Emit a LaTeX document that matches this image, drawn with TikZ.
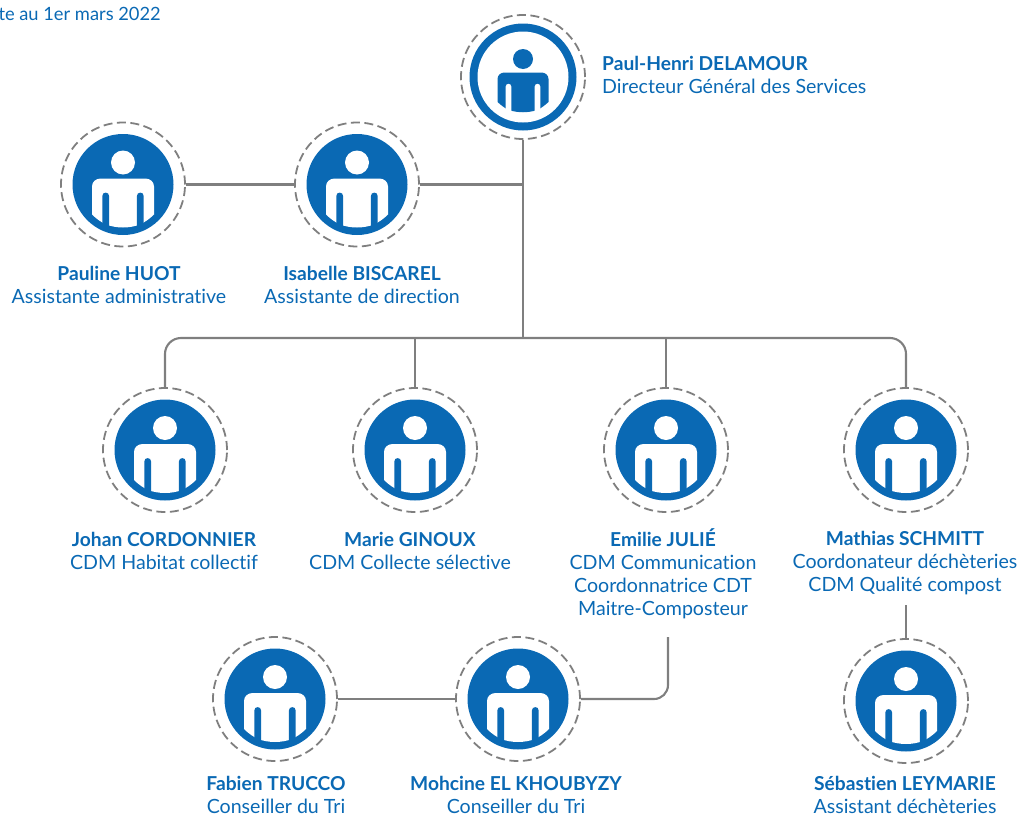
\documentclass[tikz,border=0pt]{standalone}
\usepackage{fontspec}
\setmainfont[Ligatures=NoCommon]{Lato}
\definecolor{brand}{HTML}{0A69B4}
\definecolor{linegray}{HTML}{7F7F7F}
\newcommand{\nm}[1]{{\fontsize{19.2}{23}\selectfont\bfseries #1}}
\tikzset{
  ring/.style={circle,draw=linegray,line width=1.8pt,dash pattern=on 9pt off 4.5pt,minimum size=124pt,inner sep=0pt},
  wire/.style={draw=linegray,line width=2.1pt},
  lbl/.style={text=brand,align=center,inner sep=0pt,font=\fontsize{19.6}{23}\selectfont},
  lblleft/.style={lbl,align=left,anchor=west},
  person/.pic={
    \fill[brand] (0,0) circle (50.5);
    \fill[white] (0,-22) circle (12);
    \fill[white] (-31,30) -- (-31,2) .. controls (-31,-3) and (-27,-6) .. (-22,-6) -- (22,-6) .. controls (27,-6) and (31,-3) .. (31,2) -- (31,30)
      .. controls (26,35) and (21,38) .. (17,40) .. controls (6,44) and (-6,44) .. (-17,40) .. controls (-21,38) and (-26,35) .. (-31,30) -- cycle;
    \fill[brand] (-20.7,39) -- (-20.7,11.5) .. controls (-20.7,7) and (-13.9,7) .. (-13.9,11.5) -- (-13.9,43) -- cycle;
    \fill[brand] (13.9,43) -- (13.9,11.5) .. controls (13.9,7) and (20.7,7) .. (20.7,11.5) -- (20.7,39) -- cycle;
  },
  chief/.pic={
    \fill[brand] (0,0) circle (53.5);
    \fill[white] (0,0) circle (45.5);
    \fill[brand] (0,-18) circle (10);
    \fill[brand] (-25.5,25) -- (-25.5,2) .. controls (-25.5,-2) and (-22,-4.5) .. (-18.5,-4.5) -- (18.5,-4.5) .. controls (22,-4.5) and (25.5,-2) .. (25.5,2) -- (25.5,25)
      .. controls (21,29) and (17,32) .. (14,33) .. controls (5,36) and (-5,36) .. (-14,33) .. controls (-17,32) and (-21,29) .. (-25.5,25) -- cycle;
    \fill[white] (-17.3,33) -- (-17.3,9.5) .. controls (-17.3,6) and (-11.7,6) .. (-11.7,9.5) -- (-11.7,36) -- cycle;
    \fill[white] (11.7,36) -- (11.7,9.5) .. controls (11.7,6) and (17.3,6) .. (17.3,9.5) -- (17.3,33) -- cycle;
  }
}
\begin{document}
\begin{tikzpicture}[x=1pt,y=-1pt]
\useasboundingbox (0,0) rectangle (1021,814);
% rings
\node[ring] (paul) at (523,77) {};
\node[ring] (pauline) at (123,184.5) {};
\node[ring] (isabelle) at (357,184.5) {};
\node[ring] (johan) at (165,450) {};
\node[ring] (marie) at (415,450) {};
\node[ring] (emilie) at (666,450) {};
\node[ring] (mathias) at (906,450) {};
\node[ring] (fabien) at (275,699) {};
\node[ring] (mohcine) at (518,699) {};
\node[ring] (sebastien) at (906,701) {};
% icons
\pic at (paul) {chief};
\foreach \n in {pauline,isabelle,johan,marie,emilie,mathias,fabien,mohcine,sebastien} {\pic at (\n) {person};}
% labels
\node[lbl,anchor=east] (date) at (161,14) {\fontsize{18.3}{20}\selectfont te au 1er mars 2022};
\node[lblleft] (tpaul) at (602,75) {\nm{Paul-Henri DELAMOUR}\\Directeur Général des Services};
\node[lbl] (tpauline) at (119,285) {\nm{Pauline HUOT}\\Assistante administrative};
\node[lbl] (tisabelle) at (362,285) {\nm{Isabelle BISCAREL}\\Assistante de direction};
\node[lbl] (tjohan) at (164,551) {\nm{Johan CORDONNIER}\\CDM Habitat collectif};
\node[lbl] (tmarie) at (410,551) {\nm{Marie GINOUX}\\CDM Collecte sélective};
\node[lbl,anchor=north] (temilie) at (663,528.5) {\nm{Emilie JULIÉ}\\CDM Communication\\Coordonnatrice CDT\\Maitre-Composteur};
\node[lbl,anchor=north] (tmathias) at (905,531) {\nm{Mathias SCHMITT}\\Coordonateur déchèteries\\CDM Qualité compost};
\node[lbl] (tfabien) at (276,795) {\nm{Fabien TRUCCO}\\Conseiller du Tri};
\node[lbl] (tmohcine) at (516,795) {\nm{Mohcine EL KHOUBYZY}\\Conseiller du Tri};
\node[lbl] (tsebastien) at (905,794.5) {\nm{Sébastien LEYMARIE}\\Assistant déchèteries};
% junctions
\coordinate (bus) at (523,338);
\coordinate (jem) at (668,637);
\coordinate (jmath) at (906,605);
% connectors
\draw[wire] (paul.south) -- (bus);
\draw[wire] (isabelle.east) -- (isabelle.east -| bus);
\draw[wire] (pauline.east) -- (isabelle.west);
\draw[wire,rounded corners=16pt] (johan.north) -- (johan.north |- bus) -- (mathias.north |- bus) -- (mathias.north);
\draw[wire] (marie.north) -- (marie.north |- bus);
\draw[wire] (emilie.north) -- (emilie.north |- bus);
\draw[wire] (jmath) -- (sebastien.north);
\draw[wire,rounded corners=14pt] (jem) -- (jem |- mohcine.east) -- (mohcine.east);
\draw[wire] (fabien.east) -- (mohcine.west);
\end{tikzpicture}
\end{document}
